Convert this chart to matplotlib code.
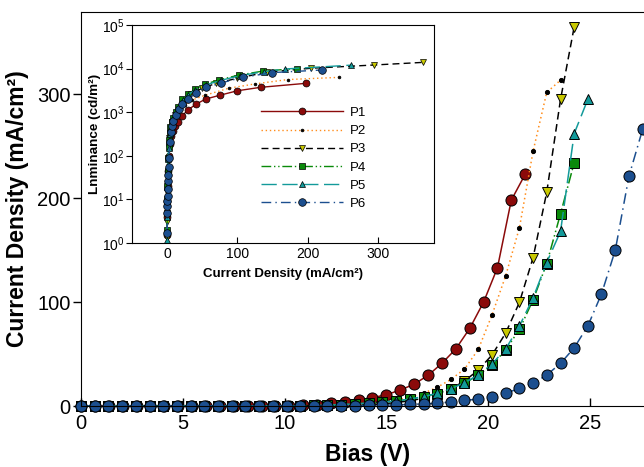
import matplotlib
matplotlib.use('Agg')
import matplotlib.pyplot as plt

plt.rcParams['font.family'] = ['Liberation Sans', 'DejaVu Sans']
plt.rcParams['mathtext.fontset'] = 'custom'
plt.rcParams['mathtext.rm'] = 'Liberation Sans'
plt.rcParams['mathtext.it'] = 'Liberation Sans:italic'
plt.rcParams['mathtext.bf'] = 'Liberation Sans:bold'

# Main plot data: bias (V) vs current density (mA/cm2)
bias = [0, 0.67, 1.35, 2.02, 2.69, 3.37, 4.04, 4.71, 5.38, 6.06, 6.73, 7.4, 8.08, 8.75,
        9.42, 10.1, 10.77, 11.44, 12.11, 12.79, 13.46, 14.13, 14.81, 15.48, 16.15, 16.83,
        17.5, 18.17, 18.84, 19.52, 20.19, 20.86, 21.54, 22.21, 22.88, 23.56, 24.23, 24.9,
        25.57, 26.25, 26.92, 27.59]
bias_p1 = [0, 0.68, 1.36, 2.05, 2.73, 3.41, 4.09, 4.77, 5.46, 6.14, 6.82, 7.5, 8.18, 8.87,
           9.55, 10.23, 10.91, 11.59, 12.28, 12.96, 13.64, 14.32, 15.0, 15.69, 16.37, 17.05,
           17.73, 18.41, 19.1, 19.78, 20.46, 21.14, 21.82]

j_p1 = [0, 0, 0, 0, 0, 0, 0, 0, 0, 0, 0, 0, 0, 0.1, 0.2, 0.4, 0.7, 1.2, 2.6, 4.2, 5.8,
        8, 10.8, 15.4, 21, 29.5, 41, 54.8, 74.7, 100, 133, 198, 222.8]
j_p2 = [0, 0, 0, 0, 0, 0, 0, 0, 0, 0, 0, 0, 0, 0, 0, 0, 0.1, 0.3, 0.5, 0.8, 1.3, 2.2,
        3.5, 5.5, 8.5, 12.2, 18, 25.5, 35.5, 54.5, 87.5, 125, 171.5, 245, 301.6, 313.5]
j_p3 = [0, 0, 0, 0, 0, 0, 0, 0, 0, 0, 0, 0, 0, 0, 0, 0, 0.1, 0.2, 0.3, 0.5, 0.8, 1.3,
        2.1, 3.3, 5, 7.5, 11, 16.5, 24, 34.6, 49, 70, 99.7, 142.6, 205.5, 295, 364.7]
j_p4 = [0, 0, 0, 0, 0, 0, 0, 0, 0, 0, 0, 0, 0, 0, 0.1, 0.2, 0.3, 0.5, 0.8, 1.3, 2, 2.8,
        3.8, 4.8, 6.7, 9, 12, 16, 21.8, 29.8, 39.4, 53.8, 73.7, 102, 137, 185, 234]
j_p5 = [0, 0, 0, 0, 0, 0, 0, 0, 0, 0, 0, 0, 0, 0, 0.1, 0.2, 0.3, 0.5, 0.8, 1.3, 2, 2.8,
        3.8, 4.8, 6.7, 9, 12.2, 16.5, 22.4, 29.8, 40.4, 54.8, 77, 104, 138, 168, 262, 295]
j_p6 = [0, 0, 0, 0, 0, 0, 0, 0, 0, 0, 0, 0, 0, 0, 0, 0, 0, 0.1, 0.2, 0.3, 0.4, 0.6,
        0.8, 1.1, 1.5, 2, 2.6, 3.9, 5.3, 6.7, 9, 12.2, 17, 21.8, 29.8, 41, 56, 77, 107.7,
        150, 221, 266]

# Inset data: current density (mA/cm2) vs luminance (cd/m2)
jin_p1 = [0.1, 0.2, 0.4, 0.7, 1.2, 2.6, 4.2, 5.8, 8, 10.8, 15.4, 21, 29.5, 41, 54.8, 74.7,
          100, 133, 198]
lum_p1 = [1.5, 4, 9, 20, 45, 100, 190, 280, 370, 470, 600, 815, 1120, 1520, 2000, 2440,
          3100, 3720, 4600]
jin_p2 = [0.1, 0.3, 0.5, 0.8, 1.3, 2.2, 3.5, 5.5, 8.5, 12.2, 18, 25.5, 35.5, 54.5, 87.5,
          125, 171.5, 245]
lum_p2 = [1.5, 5, 12, 30, 65, 140, 250, 400, 600, 800, 1100, 1450, 1900, 2460, 3540, 4450,
          5600, 6300]
jin_p3 = [0.1, 0.2, 0.3, 0.5, 0.8, 1.3, 2.1, 3.3, 5, 7.5, 11, 16.5, 24, 34.6, 49, 70, 99.7,
          142.6, 205.5, 295, 364.7]
lum_p3 = [1.3, 3, 7, 15, 35, 75, 150, 260, 400, 600, 850, 1200, 1800, 2600, 3500, 4600,
          6000, 8300, 10200, 12100, 13900]
jin_p4 = [0.1, 0.2, 0.3, 0.5, 0.8, 1.3, 2, 2.8, 3.8, 4.8, 6.7, 9, 12, 16, 21.8, 29.8, 39.4,
          53.8, 73.7, 102, 137, 185]
lum_p4 = [2, 5, 10, 20, 45, 90, 160, 230, 330, 450, 600, 750, 1000, 1350, 1990, 2570, 3370,
          4370, 5500, 7100, 8800, 10000]
jin_p5 = [0.1, 0.2, 0.3, 0.5, 0.8, 1.3, 2, 2.8, 3.8, 4.8, 6.7, 9, 12.2, 16.5, 22.4, 29.8,
          40.4, 54.8, 77, 104, 138, 168, 262]
lum_p5 = [1.2, 4, 9, 19, 42, 85, 150, 220, 320, 430, 580, 730, 980, 1320, 1900, 2500, 3250,
          4200, 5400, 6900, 8500, 9800, 12000]
jin_p6 = [0.1, 0.2, 0.3, 0.4, 0.6, 0.8, 1.1, 1.5, 2, 2.6, 3.9, 5.3, 6.7, 9, 12.2, 17, 21.8,
          29.8, 41, 56, 77, 107.7, 150, 221]
lum_p6 = [1.7, 5, 7, 9, 12, 17, 26, 37, 55, 90, 210, 350, 480, 640, 860, 1200, 1550, 2050,
          2750, 3700, 4700, 6300, 8100, 9300]

labels = ['P1', 'P2', 'P3', 'P4', 'P5', 'P6']
line_colors = ['#8b0a0a', '#ff8c1a', 'black', '#0a8a0a', '#139a9a', '#1c4f8f']
face_colors = ['#8b0a0a', 'black', '#c8c800', '#0a8a0a', '#139a9a', '#1c4f8f']
markers = ['o', 'o', 'v', 's', '^', 'o']
main_ms = [8, 3, 7.5, 6.5, 7.5, 8]
ins_ms = [5, 2, 5, 4.5, 5, 5.5]
dashes = [(None, None), (1, 2), (5, 3), (7, 2, 1, 2, 1, 2), (11, 4), (7, 3, 1, 3)]

main_x = [bias_p1, bias, bias, bias, bias, bias]
main_y = [j_p1, j_p2, j_p3, j_p4, j_p5, j_p6]
ins_x = [jin_p1, jin_p2, jin_p3, jin_p4, jin_p5, jin_p6]
ins_y = [lum_p1, lum_p2, lum_p3, lum_p4, lum_p5, lum_p6]

fig = plt.figure(figsize=(6.44, 4.67), dpi=100)
ax = fig.add_axes([81 / 644, 61 / 467, (655 - 81) / 644, 394 / 467])

for i in range(6):
    xs = main_x[i][:len(main_y[i])]
    line, = ax.plot(xs, main_y[i], color=line_colors[i], lw=1.1,
                    marker=markers[i], ms=main_ms[i], mfc=face_colors[i], mec='black',
                    mew=0.7, clip_on=False)
    if dashes[i][0] is not None:
        line.set_dashes(dashes[i])

ax.set_xlim(0, 28.2)
ax.set_ylim(0, 379)
ax.set_xticks([0, 5, 10, 15, 20, 25])
ax.set_yticks([0, 100, 200, 300])
ax.tick_params(axis='x', direction='in', length=6, width=1, labelsize=14.5, pad=6)
ax.tick_params(axis='y', direction='out', length=6, width=1, labelsize=14.5, pad=1.5)
ax.spines['right'].set_visible(False)
ax.set_xlabel('Bias (V)', fontsize=16.5, fontweight='bold', labelpad=7)
ax.set_ylabel('Current Density (mA/cm²)', fontsize=16.5, fontweight='bold', labelpad=6)

# Inset
ins = fig.add_axes([132 / 644, 224 / 467, 302 / 644, 218 / 467])
for i in range(6):
    line, = ins.plot(ins_x[i], ins_y[i], color=line_colors[i], lw=1.0,
                     marker=markers[i], ms=ins_ms[i], mfc=face_colors[i], mec='black',
                     mew=0.5, label=labels[i])
    if dashes[i][0] is not None:
        line.set_dashes(dashes[i])

ins.set_yscale('log')
ins.set_xlim(-50, 380)
ins.set_ylim(1, 1e5)
ins.set_xticks([0, 100, 200, 300])
ins.minorticks_off()
ins.tick_params(axis='x', direction='in', length=4, labelsize=10, pad=3)
ins.tick_params(axis='y', direction='out', length=4, labelsize=10, pad=1.5)
ins.set_xlabel('Current Density (mA/cm²)', fontsize=9.5, fontweight='bold', labelpad=5)
ins.set_ylabel('Lnminance (cd/m²)', fontsize=9.7, fontweight='bold', labelpad=0.5)

ins.legend(loc='upper left', bbox_to_anchor=(0.428, 0.625), frameon=False, fontsize=9.5,
           handlelength=6.2, handletextpad=0.5, labelspacing=0.45, borderpad=0,
           borderaxespad=0, numpoints=1)

fig.savefig('out.png', dpi=100)
